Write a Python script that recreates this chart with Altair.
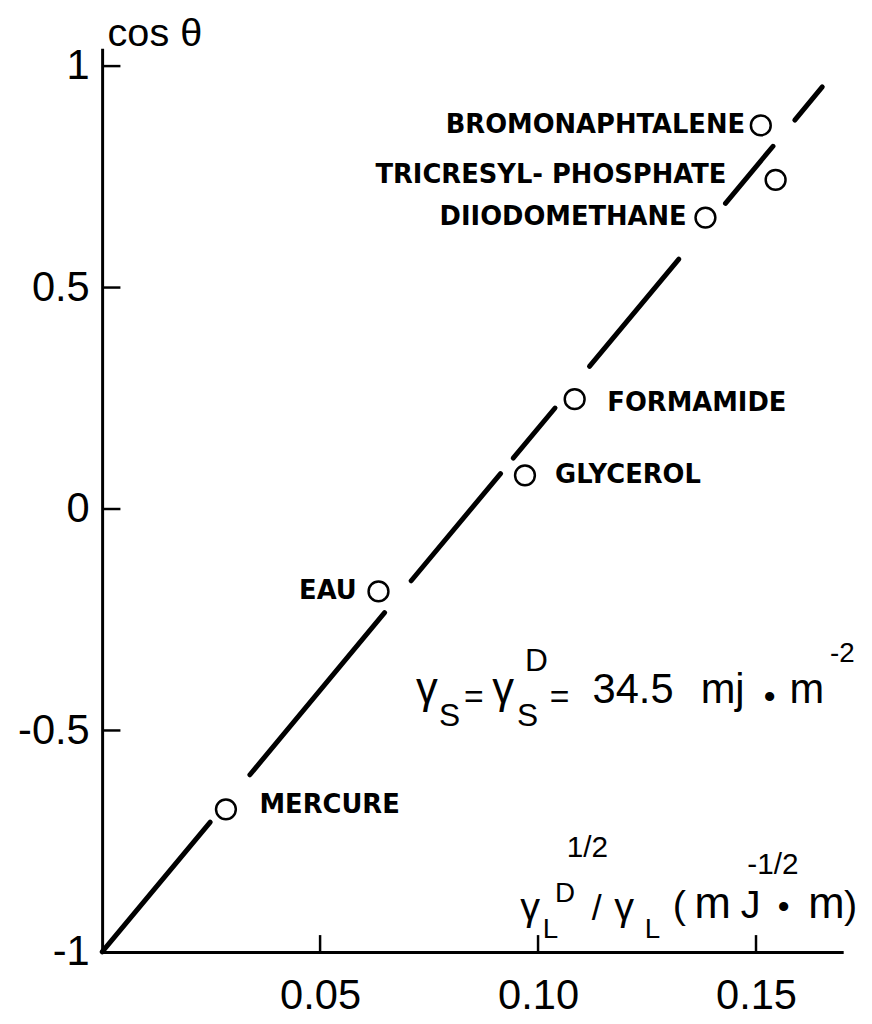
import altair as alt
import pandas as pd

# ---------------- data ----------------
liquids = ["BROMONAPHTALENE", "TRICRESYL- PHOSPHATE", "DIIODOMETHANE",
           "FORMAMIDE", "GLYCEROL", "EAU", "MERCURE"]
gamma_ratio = [0.1511, 0.1545, 0.1384, 0.1084, 0.0970, 0.0634, 0.0284]
cos_theta = [0.866, 0.743, 0.658, 0.248, 0.076, -0.186, -0.678]

# label anchors (right-aligned / left-aligned)
lab_r_names = ["BROMONAPHTALENE", "TRICRESYL- PHOSPHATE", "DIIODOMETHANE", "EAU"]
lab_r_x = [0.1475, 0.1432, 0.1341, 0.0584]
lab_r_y = [0.866, 0.754, 0.658, -0.186]
lab_l_names = ["FORMAMIDE", "GLYCEROL", "MERCURE"]
lab_l_x = [0.1159, 0.1039, 0.0361]
lab_l_y = [0.239, 0.076, -0.669]

# broken straight line (segments between the gaps)
seg_x0 = [0.0, 0.0339, 0.0709, 0.0943, 0.1118, 0.1430, 0.1589]
seg_x1 = [0.0248, 0.0648, 0.0914, 0.1039, 0.1323, 0.1539, 0.1652]
seg_y0 = [-1.0, -0.600, -0.162, 0.115, 0.322, 0.690, 0.878]
seg_y1 = [-0.707, -0.234, 0.080, 0.228, 0.564, 0.819, 0.953]

x_ticks = [0.05, 0.10, 0.15]
y_ticks = [-1, -0.5, 0, 0.5, 1]
y_inner_ticks = [-0.5, 0, 0.5, 1]

# equation annotation  γS = γS^D = 34.5 mj.m^-2
eq_text = ["γ", "S", "=", "γ", "D", "S", "=", "34.5", "mj", "•", "m", "-2"]
eq_x = [0.0720, 0.0773, 0.0830, 0.0895, 0.0970, 0.0952, 0.1027, 0.1125, 0.1373, 0.1518, 0.1577, 0.1670]
eq_y = [-0.4385, -0.490, -0.450, -0.4385, -0.365, -0.490, -0.450, -0.4385, -0.4385, -0.450, -0.4385, -0.345]

# x-axis title  γL^D^1/2 / γL (mJ.m)^-1/2
xt_text = ["γ", "L", "D", "1/2", "/", "γ", "L", "(", "m", "J", "•", "m", ")", "-1/2"]
xt_x = [0.0959, 0.1011, 0.1039, 0.1066, 0.1123, 0.1175, 0.1245, 0.1309, 0.1359, 0.1465, 0.1550, 0.1620, 0.1702, 0.1480]
xt_y = [-0.9284, -0.9687, -0.8881, -0.7867, -0.9284, -0.9284, -0.9687, -0.9239, -0.9239, -0.9239, -0.9239, -0.9239, -0.9239, -0.8231]

# ---------------- styles ----------------
eq_sizes = [44, 32, 34, 44, 32, 32, 34, 42, 42, 34, 42, 28]
xt_sizes = [40, 28, 28, 30, 36, 40, 28, 40, 44, 40, 34, 44, 40, 30]

XS = alt.Scale(domain=[0, 0.17], nice=False, zero=False)
YS = alt.Scale(domain=[-1, 1.04], nice=False, zero=False)

points_df = pd.DataFrame({"x": gamma_ratio, "y": cos_theta, "name": liquids})
seg_df = pd.DataFrame({"x": seg_x0, "x2": seg_x1, "y": seg_y0, "y2": seg_y1})
lab_r_df = pd.DataFrame({"x": lab_r_x, "y": lab_r_y, "t": lab_r_names})
lab_l_df = pd.DataFrame({"x": lab_l_x, "y": lab_l_y, "t": lab_l_names})
eq_df = pd.DataFrame({"x": eq_x, "y": eq_y, "t": eq_text, "fs": eq_sizes})
xt_df = pd.DataFrame({"x": xt_x, "y": xt_y, "t": xt_text, "fs": xt_sizes})
xtick_df = pd.DataFrame({"x": x_ticks, "y": [-1] * 3, "y2": [-0.962] * 3})
ytick_df = pd.DataFrame({"y": y_inner_ticks, "x": [0] * 4, "x2": [0.0042] * 4})

FONT = "Liberation Sans"

x_axis = alt.Axis(values=x_ticks, labelExpr="format(datum.value, '.2f')",
                  ticks=False, grid=False, title=None, domainColor="black",
                  domainWidth=3, labelFont=FONT, labelFontSize=42,
                  labelColor="black", labelPadding=24, labelFlush=False,
                  labelOverlap=False)
y_axis = alt.Axis(values=y_ticks,
                  labelExpr="replace(format(datum.value, '~g'), '\u2212', '-')",
                  ticks=False, grid=False, title="cos θ", titleAngle=0,
                  titleAlign="left", titleBaseline="alphabetic", titleX=5,
                  titleY=-3, titleFont=FONT, titleFontSize=40,
                  titleFontWeight="normal", titleColor="black",
                  domainColor="black", domainWidth=3, labelFont=FONT,
                  labelFontSize=42, labelColor="black", labelPadding=13,
                  labelFlush=False, labelOverlap=False)

X = alt.X("x:Q", scale=XS, axis=x_axis)
Y = alt.Y("y:Q", scale=YS, axis=y_axis)

line = alt.Chart(seg_df).mark_rule(color="black", strokeWidth=5, strokeCap="round").encode(
    x=X, y=Y, x2="x2:Q", y2="y2:Q")

pts = alt.Chart(points_df).mark_point(shape="circle", size=400, filled=False,
                                       color="black", strokeWidth=2.5, opacity=1).encode(x=X, y=Y)

xt_rules = alt.Chart(xtick_df).mark_rule(color="black", strokeWidth=2.5).encode(
    x=X, y=Y, y2="y2:Q")
yt_rules = alt.Chart(ytick_df).mark_rule(color="black", strokeWidth=2.5).encode(
    x=X, x2="x2:Q", y=Y)

lab_r = alt.Chart(lab_r_df).mark_text(align="right", baseline="middle", font="DejaVu Sans",
                                      fontWeight="bold", fontSize=26, color="black").encode(
    x=X, y=Y, text="t:N")
lab_l = alt.Chart(lab_l_df).mark_text(align="left", baseline="middle", font="DejaVu Sans",
                                      fontWeight="bold", fontSize=26, color="black").encode(
    x=X, y=Y, text="t:N")

eq = alt.Chart(eq_df).mark_text(align="left", baseline="alphabetic", font=FONT,
                                color="black").encode(
    x=X, y=Y, text="t:N", size=alt.Size("fs:Q", scale=None, legend=None))
xt = alt.Chart(xt_df).mark_text(align="left", baseline="alphabetic", font=FONT,
                                color="black").encode(
    x=X, y=Y, text="t:N", size=alt.Size("fs:Q", scale=None, legend=None))

chart = alt.layer(line, xt_rules, yt_rules, pts, lab_r, lab_l, eq, xt).properties(
    width=748, height=912,
    autosize=alt.AutoSizeParams(type="none"),
    padding={"left": 95, "top": 36, "right": 21, "bottom": 68},
    background="white",
).configure_view(stroke=None)

chart.save("out.html", embed_options={"renderer": "svg", "actions": False})
